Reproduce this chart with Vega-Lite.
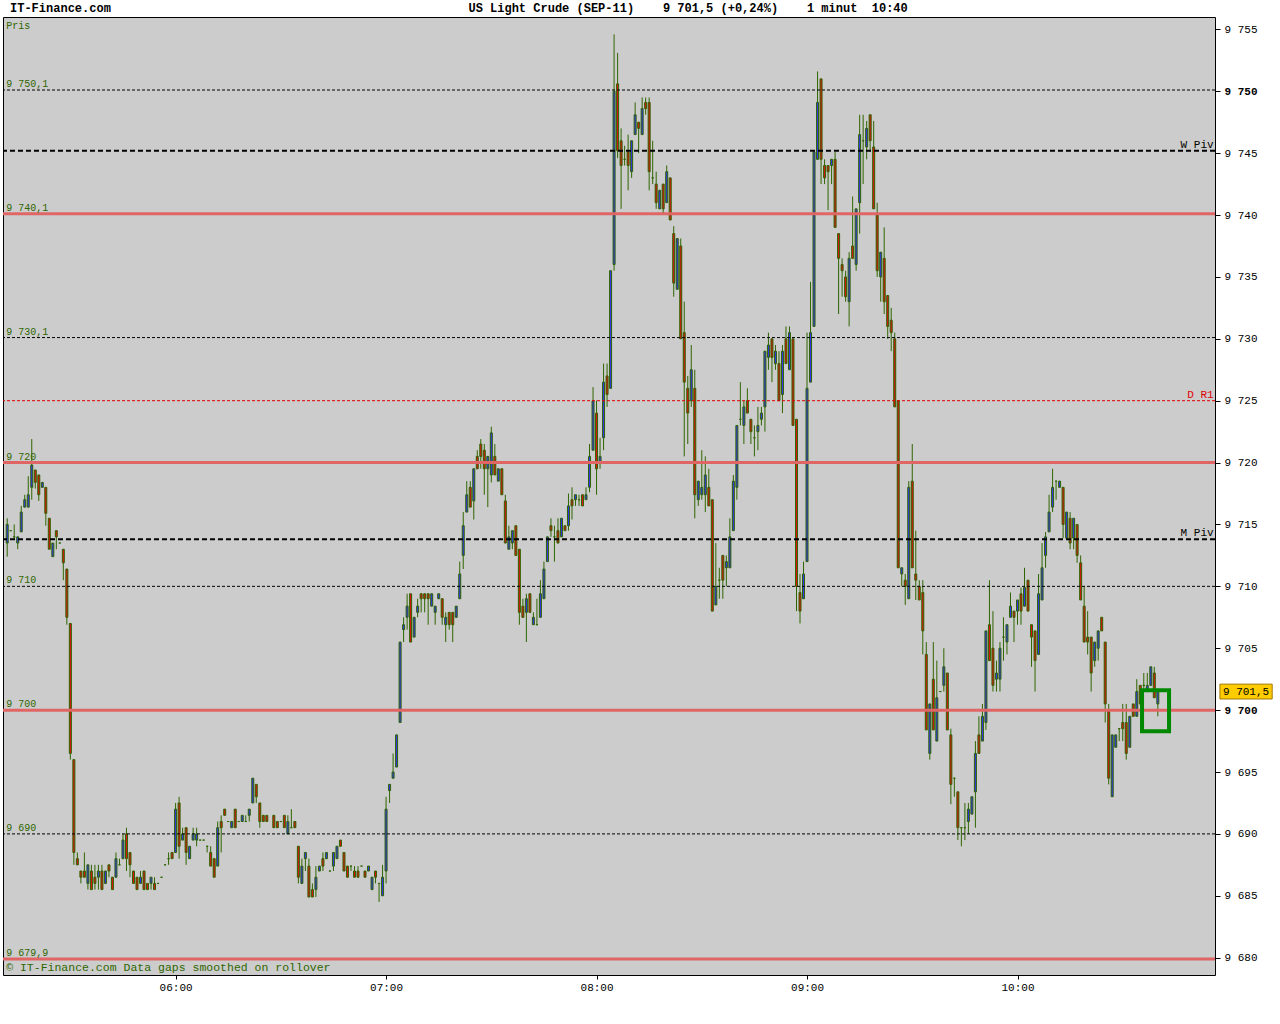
{
"$schema": "https://vega.github.io/schema/vega-lite/v6.json",
"width": 1212,
"height": 958,
"autosize": {"type": "none"},
"padding": {"left": 3, "top": 17, "right": 65, "bottom": 49},
"background": "#FFFFFF",
"config": {
  "view": {"fill": "#CCCCCC", "stroke": "#000000", "strokeWidth": 1},
  "axis": {"labelFont": "Liberation Mono", "labelColor": "#000000", "tickColor": "#000000", "domain": false, "grid": false},
  "text": {"font": "Liberation Mono"}
},
"datasets": {
"bars": [
{"m":312,"o":9713.5,"h":9715.5,"l":9712.4,"c":9715},
{"m":313,"o":9714.5,"h":9714.5,"l":9714.5,"c":9714.5},
{"m":314,"o":9714,"h":9715,"l":9713.8,"c":9714},
{"m":315,"o":9713.5,"h":9714,"l":9713,"c":9714},
{"m":316,"o":9714.4,"h":9716.5,"l":9714.4,"c":9716},
{"m":317,"o":9716.4,"h":9717.4,"l":9716.4,"c":9717},
{"m":318,"o":9716.4,"h":9718.9,"l":9716.4,"c":9717.4},
{"m":319,"o":9718,"h":9721.9,"l":9717,"c":9719.8},
{"m":320,"o":9719.4,"h":9719.4,"l":9717.9,"c":9718.4},
{"m":321,"o":9719,"h":9719,"l":9716.9,"c":9717.4},
{"m":322,"o":9718,"h":9718.4,"l":9718,"c":9718.4},
{"m":323,"o":9718,"h":9718,"l":9714.9,"c":9715.9},
{"m":324,"o":9715.5,"h":9715.5,"l":9713,"c":9713},
{"m":325,"o":9712.4,"h":9713.5,"l":9712.4,"c":9713.5},
{"m":326,"o":9714.5,"h":9714.5,"l":9713,"c":9714},
{"m":327,"o":9713.5,"h":9713.5,"l":9713.5,"c":9713.5},
{"m":328,"o":9713,"h":9713,"l":9710.5,"c":9711.9},
{"m":329,"o":9711.4,"h":9711.4,"l":9706.9,"c":9707.5},
{"m":330,"o":9707,"h":9707,"l":9696,"c":9696.5},
{"m":331,"o":9696,"h":9696,"l":9687.5,"c":9688.5},
{"m":332,"o":9688,"h":9688.5,"l":9687.5,"c":9687.5},
{"m":333,"o":9687,"h":9687,"l":9686,"c":9686.5},
{"m":334,"o":9687,"h":9688.5,"l":9686.5,"c":9686.5},
{"m":335,"o":9686,"h":9687.5,"l":9685.5,"c":9687.5},
{"m":336,"o":9687,"h":9687.5,"l":9685.5,"c":9685.5},
{"m":337,"o":9686.5,"h":9687.5,"l":9685.5,"c":9686},
{"m":338,"o":9686.5,"h":9687.5,"l":9685.5,"c":9687},
{"m":339,"o":9687,"h":9687.5,"l":9685.5,"c":9685.5},
{"m":340,"o":9686,"h":9687,"l":9686,"c":9687},
{"m":341,"o":9687.5,"h":9687.5,"l":9686.5,"c":9687},
{"m":342,"o":9686.5,"h":9686.5,"l":9685.5,"c":9685.5},
{"m":343,"o":9686.5,"h":9688.5,"l":9686.5,"c":9688},
{"m":344,"o":9687.5,"h":9688,"l":9687.5,"c":9687.5},
{"m":345,"o":9688,"h":9690,"l":9688,"c":9689.5},
{"m":346,"o":9690,"h":9690.5,"l":9687,"c":9688},
{"m":347,"o":9688.5,"h":9688.5,"l":9686.5,"c":9687.5},
{"m":348,"o":9687,"h":9687,"l":9686,"c":9686},
{"m":349,"o":9686.5,"h":9686.5,"l":9685.5,"c":9685.5},
{"m":350,"o":9686,"h":9687,"l":9686,"c":9686.5},
{"m":351,"o":9687,"h":9687,"l":9685.5,"c":9685.5},
{"m":352,"o":9686,"h":9686,"l":9685.5,"c":9685.5},
{"m":353,"o":9686,"h":9686.5,"l":9685.5,"c":9686.5},
{"m":354,"o":9686,"h":9686.5,"l":9685.5,"c":9685.5},
{"m":355,"o":9686,"h":9686,"l":9686,"c":9686},
{"m":356,"o":9686.5,"h":9686.5,"l":9686.5,"c":9686.5},
{"m":357,"o":9687.5,"h":9687.5,"l":9687.5,"c":9687.5},
{"m":358,"o":9688,"h":9688.5,"l":9687.5,"c":9688},
{"m":359,"o":9688.5,"h":9688.5,"l":9688,"c":9688},
{"m":360,"o":9688.5,"h":9692.5,"l":9688.5,"c":9692},
{"m":361,"o":9692.5,"h":9693,"l":9688,"c":9689},
{"m":362,"o":9689.5,"h":9690.5,"l":9689.5,"c":9690},
{"m":363,"o":9690.5,"h":9690.5,"l":9687.5,"c":9688.5},
{"m":364,"o":9688,"h":9689,"l":9688,"c":9689},
{"m":365,"o":9689.5,"h":9690.5,"l":9689.5,"c":9690},
{"m":366,"o":9689.5,"h":9690.5,"l":9689,"c":9690},
{"m":367,"o":9689.5,"h":9689.5,"l":9689.5,"c":9689.5},
{"m":368,"o":9689.5,"h":9689.5,"l":9689.5,"c":9689.5},
{"m":369,"o":9689,"h":9689,"l":9688.5,"c":9689},
{"m":370,"o":9688.5,"h":9689,"l":9687.4,"c":9687.4},
{"m":371,"o":9688,"h":9688,"l":9686.5,"c":9686.5},
{"m":372,"o":9687.4,"h":9691,"l":9687.4,"c":9690.5},
{"m":373,"o":9691,"h":9691.5,"l":9688.5,"c":9690.5},
{"m":374,"o":9692,"h":9692,"l":9691.5,"c":9691.5},
{"m":375,"o":9691,"h":9691,"l":9691,"c":9691},
{"m":376,"o":9690.5,"h":9691,"l":9690.5,"c":9691},
{"m":377,"o":9692,"h":9692,"l":9690.5,"c":9690.5},
{"m":378,"o":9691,"h":9691,"l":9691,"c":9691},
{"m":379,"o":9691,"h":9691.5,"l":9691,"c":9691.5},
{"m":380,"o":9691,"h":9691.5,"l":9691,"c":9691},
{"m":381,"o":9691.5,"h":9692,"l":9691,"c":9692},
{"m":382,"o":9692.5,"h":9694.5,"l":9692.5,"c":9694.5},
{"m":383,"o":9694,"h":9694,"l":9692.5,"c":9693},
{"m":384,"o":9692.5,"h":9692.5,"l":9690.5,"c":9691},
{"m":385,"o":9691.5,"h":9691.5,"l":9691,"c":9691},
{"m":386,"o":9691.5,"h":9691.5,"l":9691,"c":9691},
{"m":388,"o":9691.5,"h":9691.5,"l":9690.5,"c":9690.5},
{"m":389,"o":9691,"h":9691,"l":9690.5,"c":9690.5},
{"m":390,"o":9691,"h":9691,"l":9691,"c":9691},
{"m":391,"o":9691.5,"h":9691.5,"l":9690.5,"c":9690.5},
{"m":392,"o":9690,"h":9691.5,"l":9690,"c":9691},
{"m":393,"o":9690.5,"h":9692,"l":9690.5,"c":9690.5},
{"m":394,"o":9691,"h":9691,"l":9690.5,"c":9690.5},
{"m":395,"o":9689,"h":9689,"l":9686,"c":9686.5},
{"m":396,"o":9686,"h":9688,"l":9686,"c":9687.4},
{"m":397,"o":9688,"h":9688.5,"l":9687,"c":9688.5},
{"m":398,"o":9687.4,"h":9688,"l":9684.9,"c":9684.9},
{"m":399,"o":9685.5,"h":9686,"l":9684.9,"c":9684.9},
{"m":400,"o":9685.5,"h":9687.4,"l":9684.9,"c":9686.5},
{"m":401,"o":9687,"h":9687.4,"l":9687,"c":9687.4},
{"m":402,"o":9688,"h":9688.5,"l":9687,"c":9687.4},
{"m":403,"o":9688,"h":9688.5,"l":9688,"c":9688.5},
{"m":404,"o":9687,"h":9687,"l":9687,"c":9687},
{"m":405,"o":9687.4,"h":9688.5,"l":9687,"c":9688.5},
{"m":406,"o":9688,"h":9689,"l":9688,"c":9689},
{"m":407,"o":9689.5,"h":9689.5,"l":9689,"c":9689},
{"m":408,"o":9688.5,"h":9688.5,"l":9687,"c":9687},
{"m":409,"o":9687.4,"h":9687.4,"l":9686.5,"c":9686.5},
{"m":410,"o":9687.4,"h":9687.4,"l":9687,"c":9687.4},
{"m":411,"o":9687,"h":9687.4,"l":9686.5,"c":9686.5},
{"m":412,"o":9687,"h":9687.4,"l":9686.5,"c":9686.5},
{"m":413,"o":9687.4,"h":9687.4,"l":9687.4,"c":9687.4},
{"m":414,"o":9687,"h":9687,"l":9686.5,"c":9686.5},
{"m":415,"o":9687,"h":9687.4,"l":9687,"c":9687.4},
{"m":416,"o":9685.5,"h":9686.5,"l":9685.5,"c":9686.5},
{"m":417,"o":9687,"h":9687,"l":9686,"c":9686.5},
{"m":418,"o":9686,"h":9686,"l":9684.5,"c":9686},
{"m":419,"o":9685,"h":9687.5,"l":9685,"c":9686.5},
{"m":420,"o":9687,"h":9693,"l":9686,"c":9692},
{"m":421,"o":9693.5,"h":9694,"l":9692.5,"c":9694},
{"m":422,"o":9694.5,"h":9696.5,"l":9694.5,"c":9695},
{"m":423,"o":9695.4,"h":9698,"l":9695.4,"c":9698},
{"m":424,"o":9699,"h":9705.5,"l":9699,"c":9705.5},
{"m":425,"o":9706.5,"h":9707.5,"l":9705.5,"c":9706.9},
{"m":426,"o":9707.5,"h":9709.4,"l":9706.5,"c":9708.4},
{"m":427,"o":9709.4,"h":9709.4,"l":9705.5,"c":9705.5},
{"m":428,"o":9705.9,"h":9707.5,"l":9705.9,"c":9707.5},
{"m":429,"o":9707.9,"h":9709,"l":9707.5,"c":9708.4},
{"m":430,"o":9709.4,"h":9709.4,"l":9707.9,"c":9709},
{"m":431,"o":9709.4,"h":9709.4,"l":9707.9,"c":9709},
{"m":432,"o":9709.4,"h":9709.4,"l":9706.9,"c":9709},
{"m":433,"o":9708.4,"h":9709.4,"l":9708.4,"c":9709.4},
{"m":434,"o":9707.9,"h":9708.4,"l":9706.9,"c":9708.4},
{"m":435,"o":9709,"h":9709.4,"l":9709,"c":9709.4},
{"m":436,"o":9709,"h":9709,"l":9706.9,"c":9707.5},
{"m":437,"o":9706.9,"h":9707.9,"l":9705.5,"c":9707.5},
{"m":438,"o":9707.9,"h":9707.9,"l":9706.5,"c":9706.9},
{"m":439,"o":9707.9,"h":9707.9,"l":9705.5,"c":9706.9},
{"m":440,"o":9707.5,"h":9708.4,"l":9707.5,"c":9708.4},
{"m":441,"o":9709,"h":9712,"l":9709,"c":9711},
{"m":442,"o":9712.5,"h":9716,"l":9711.4,"c":9714.9},
{"m":443,"o":9716,"h":9718.5,"l":9716,"c":9717.4},
{"m":444,"o":9718,"h":9718.5,"l":9716.4,"c":9716.4},
{"m":445,"o":9716.9,"h":9719.5,"l":9715.4,"c":9719.5},
{"m":446,"o":9720.5,"h":9721,"l":9719.5,"c":9719.5},
{"m":447,"o":9721.5,"h":9721.9,"l":9719.5,"c":9720.5},
{"m":448,"o":9721,"h":9721.5,"l":9717.4,"c":9719.5},
{"m":449,"o":9719.5,"h":9720.5,"l":9716.4,"c":9720.5},
{"m":450,"o":9719,"h":9722.9,"l":9718.4,"c":9722.4},
{"m":451,"o":9720.5,"h":9721.5,"l":9719,"c":9719},
{"m":452,"o":9718.5,"h":9719.5,"l":9718.5,"c":9719.5},
{"m":453,"o":9719.5,"h":9719.5,"l":9717.4,"c":9717.4},
{"m":454,"o":9716.9,"h":9717.4,"l":9713.5,"c":9713.5},
{"m":455,"o":9713,"h":9714.9,"l":9713,"c":9714},
{"m":456,"o":9713.5,"h":9714.5,"l":9713,"c":9714.5},
{"m":457,"o":9714.9,"h":9714.9,"l":9712.5,"c":9712.5},
{"m":458,"o":9713,"h":9713,"l":9706.9,"c":9707.9},
{"m":459,"o":9708.4,"h":9709,"l":9707.5,"c":9707.5},
{"m":460,"o":9707.9,"h":9709.4,"l":9705.5,"c":9709},
{"m":461,"o":9709.4,"h":9709.4,"l":9707.9,"c":9707.9},
{"m":462,"o":9706.9,"h":9707.9,"l":9706.9,"c":9707.5},
{"m":463,"o":9706.9,"h":9709,"l":9706.9,"c":9706.9},
{"m":464,"o":9707.5,"h":9710.5,"l":9707.5,"c":9709.4},
{"m":465,"o":9709,"h":9712,"l":9709,"c":9711.4},
{"m":466,"o":9712,"h":9714,"l":9712,"c":9714},
{"m":467,"o":9714.9,"h":9715.5,"l":9714,"c":9714.5},
{"m":468,"o":9714,"h":9714.9,"l":9712,"c":9714},
{"m":469,"o":9714.5,"h":9715.5,"l":9713.5,"c":9713.5},
{"m":470,"o":9714,"h":9715.5,"l":9714,"c":9715.5},
{"m":471,"o":9714.9,"h":9714.9,"l":9714.5,"c":9714.5},
{"m":472,"o":9714.9,"h":9717.5,"l":9714.5,"c":9716.5},
{"m":473,"o":9717,"h":9718,"l":9715.4,"c":9716.5},
{"m":474,"o":9717,"h":9717.4,"l":9716.5,"c":9717.4},
{"m":475,"o":9717,"h":9717.4,"l":9716.5,"c":9717},
{"m":476,"o":9717.4,"h":9717.4,"l":9716.5,"c":9716.5},
{"m":477,"o":9717,"h":9718,"l":9717,"c":9717.4},
{"m":478,"o":9718,"h":9721.5,"l":9717.6,"c":9720.5},
{"m":479,"o":9721,"h":9726.1,"l":9721,"c":9725},
{"m":480,"o":9724,"h":9725,"l":9717.4,"c":9719.5},
{"m":481,"o":9720,"h":9722,"l":9719.5,"c":9720.5},
{"m":482,"o":9722,"h":9728,"l":9721,"c":9726.5},
{"m":483,"o":9727,"h":9728,"l":9724.5,"c":9725.5},
{"m":484,"o":9726,"h":9735.5,"l":9726,"c":9735.5},
{"m":485,"o":9736,"h":9754.6,"l":9735.5,"c":9750},
{"m":486,"o":9750.6,"h":9753.1,"l":9744.6,"c":9745.2},
{"m":487,"o":9746,"h":9747,"l":9740.5,"c":9744},
{"m":488,"o":9744.5,"h":9745.6,"l":9744,"c":9744.5},
{"m":489,"o":9745.1,"h":9746.5,"l":9742,"c":9744},
{"m":490,"o":9743.5,"h":9746,"l":9743,"c":9746},
{"m":491,"o":9746.5,"h":9749.1,"l":9746.5,"c":9748.1},
{"m":492,"o":9747.5,"h":9747.5,"l":9745,"c":9747},
{"m":493,"o":9746.5,"h":9749.5,"l":9746.5,"c":9748.6},
{"m":494,"o":9749.1,"h":9749.5,"l":9748.1,"c":9748.6},
{"m":495,"o":9749.1,"h":9749.5,"l":9742,"c":9743.5},
{"m":496,"o":9743,"h":9746,"l":9742.5,"c":9743},
{"m":497,"o":9742.5,"h":9743.5,"l":9740.5,"c":9741},
{"m":498,"o":9740.5,"h":9742,"l":9740.5,"c":9742},
{"m":499,"o":9742.5,"h":9742.5,"l":9740.1,"c":9740.5},
{"m":500,"o":9741,"h":9744,"l":9741,"c":9743.5},
{"m":501,"o":9743,"h":9743,"l":9739.6,"c":9739.6},
{"m":502,"o":9738.5,"h":9739.1,"l":9733.4,"c":9734.5},
{"m":503,"o":9734,"h":9738.1,"l":9734,"c":9738.1},
{"m":504,"o":9737.5,"h":9738.1,"l":9730,"c":9730},
{"m":505,"o":9730.5,"h":9733,"l":9720.5,"c":9726.5},
{"m":506,"o":9726,"h":9727,"l":9721.5,"c":9724},
{"m":507,"o":9725,"h":9729.5,"l":9724.5,"c":9727.5},
{"m":508,"o":9726,"h":9727.5,"l":9715.5,"c":9717.4},
{"m":509,"o":9717,"h":9718.5,"l":9716.5,"c":9718.5},
{"m":510,"o":9717.4,"h":9721,"l":9717,"c":9718},
{"m":511,"o":9717.4,"h":9720.5,"l":9716,"c":9719},
{"m":512,"o":9718,"h":9719.5,"l":9716.5,"c":9716.5},
{"m":513,"o":9717,"h":9717,"l":9708,"c":9708},
{"m":514,"o":9708.5,"h":9713.5,"l":9708.5,"c":9710},
{"m":515,"o":9710.5,"h":9711.5,"l":9709,"c":9710.5},
{"m":516,"o":9712.5,"h":9712.5,"l":9709,"c":9710.5},
{"m":517,"o":9711.5,"h":9712.5,"l":9710,"c":9712},
{"m":518,"o":9711.5,"h":9715.5,"l":9711.5,"c":9714},
{"m":519,"o":9714.5,"h":9719,"l":9714.5,"c":9718.5},
{"m":520,"o":9718,"h":9723,"l":9717,"c":9723},
{"m":521,"o":9723.5,"h":9726.5,"l":9723,"c":9723.5},
{"m":522,"o":9723,"h":9725,"l":9721.5,"c":9724.5},
{"m":523,"o":9725,"h":9726,"l":9724,"c":9724},
{"m":524,"o":9723.5,"h":9723.5,"l":9721.5,"c":9722.5},
{"m":525,"o":9722,"h":9723,"l":9720.5,"c":9722},
{"m":526,"o":9722.5,"h":9724.5,"l":9721,"c":9723},
{"m":527,"o":9723.5,"h":9724.5,"l":9723,"c":9724},
{"m":528,"o":9724.5,"h":9729,"l":9722.5,"c":9729},
{"m":529,"o":9728.5,"h":9730.5,"l":9727.5,"c":9729.5},
{"m":530,"o":9730,"h":9730,"l":9726.5,"c":9728.5},
{"m":531,"o":9728,"h":9729.5,"l":9727.5,"c":9729},
{"m":532,"o":9728,"h":9729,"l":9725,"c":9725},
{"m":533,"o":9725.5,"h":9729.5,"l":9724,"c":9729},
{"m":534,"o":9730,"h":9731,"l":9728,"c":9728},
{"m":535,"o":9727.5,"h":9731,"l":9727.5,"c":9730.5},
{"m":536,"o":9730,"h":9730,"l":9723,"c":9723},
{"m":537,"o":9723.5,"h":9723.5,"l":9708,"c":9710},
{"m":538,"o":9709.5,"h":9711,"l":9707,"c":9708},
{"m":539,"o":9709,"h":9712,"l":9709,"c":9711},
{"m":540,"o":9712,"h":9730.5,"l":9712,"c":9726},
{"m":541,"o":9726.5,"h":9734.6,"l":9726.5,"c":9730.5},
{"m":542,"o":9731,"h":9745.1,"l":9731,"c":9745.1},
{"m":543,"o":9744.5,"h":9751.6,"l":9744.5,"c":9749.1},
{"m":544,"o":9751,"h":9751,"l":9742.5,"c":9744.5},
{"m":545,"o":9744,"h":9744.5,"l":9742.5,"c":9743},
{"m":546,"o":9744,"h":9744,"l":9740.4,"c":9743.5},
{"m":547,"o":9744,"h":9744.5,"l":9742.5,"c":9744.5},
{"m":548,"o":9744.5,"h":9745.1,"l":9739,"c":9739},
{"m":549,"o":9738.5,"h":9738.5,"l":9732,"c":9736.5},
{"m":550,"o":9736,"h":9736.5,"l":9733.4,"c":9735.5},
{"m":551,"o":9735,"h":9735.5,"l":9733,"c":9733.4},
{"m":552,"o":9733,"h":9737,"l":9731,"c":9736.5},
{"m":553,"o":9737.5,"h":9741.5,"l":9736.5,"c":9736.5},
{"m":554,"o":9736,"h":9740.5,"l":9735.5,"c":9740.5},
{"m":555,"o":9741,"h":9748.1,"l":9738.5,"c":9746.5},
{"m":556,"o":9746,"h":9748.1,"l":9742.5,"c":9746},
{"m":557,"o":9745.5,"h":9747.6,"l":9744.5,"c":9747},
{"m":558,"o":9748.1,"h":9748.1,"l":9745.1,"c":9746},
{"m":559,"o":9745.5,"h":9747.6,"l":9740.5,"c":9740.5},
{"m":560,"o":9740,"h":9741,"l":9735,"c":9735.5},
{"m":561,"o":9735,"h":9737,"l":9733,"c":9737},
{"m":562,"o":9736.5,"h":9739,"l":9732,"c":9733},
{"m":563,"o":9733.5,"h":9733.5,"l":9730,"c":9731},
{"m":564,"o":9731.5,"h":9732.5,"l":9729,"c":9730.5},
{"m":565,"o":9730,"h":9730.5,"l":9724.5,"c":9724.5},
{"m":566,"o":9725,"h":9725,"l":9711.5,"c":9711.5},
{"m":567,"o":9711,"h":9711.5,"l":9710,"c":9711.5},
{"m":568,"o":9710.5,"h":9711,"l":9708.5,"c":9710},
{"m":569,"o":9709,"h":9718.5,"l":9709,"c":9718},
{"m":570,"o":9718.5,"h":9721.5,"l":9711.5,"c":9711.5},
{"m":571,"o":9711,"h":9714.5,"l":9708.9,"c":9710.5},
{"m":572,"o":9710,"h":9710.5,"l":9708.9,"c":9708.9},
{"m":573,"o":9709.5,"h":9710.5,"l":9704.5,"c":9706.4},
{"m":574,"o":9704.5,"h":9705.5,"l":9698.4,"c":9698.4},
{"m":575,"o":9696.5,"h":9700.5,"l":9696,"c":9700.5},
{"m":576,"o":9702.5,"h":9705.5,"l":9698.4,"c":9698.4},
{"m":577,"o":9697.5,"h":9704,"l":9697.5,"c":9701},
{"m":578,"o":9701.5,"h":9701.5,"l":9701.5,"c":9701.5},
{"m":579,"o":9702,"h":9705,"l":9701.5,"c":9703.5},
{"m":580,"o":9703,"h":9703,"l":9698.4,"c":9698.4},
{"m":581,"o":9698,"h":9698.5,"l":9692.4,"c":9694},
{"m":582,"o":9694.5,"h":9694.5,"l":9693,"c":9694.5},
{"m":583,"o":9693.4,"h":9693.4,"l":9689.5,"c":9690.5},
{"m":584,"o":9690.5,"h":9690.5,"l":9689,"c":9690.5},
{"m":585,"o":9690.5,"h":9692.5,"l":9689.5,"c":9690.5},
{"m":586,"o":9691,"h":9692.5,"l":9690,"c":9692},
{"m":587,"o":9691.6,"h":9693,"l":9691.6,"c":9693},
{"m":588,"o":9693.4,"h":9697.5,"l":9690.5,"c":9696.5},
{"m":589,"o":9698,"h":9699.5,"l":9696.5,"c":9696.5},
{"m":590,"o":9697.5,"h":9700.5,"l":9697.5,"c":9699.5},
{"m":591,"o":9699,"h":9706.4,"l":9698.4,"c":9706.4},
{"m":592,"o":9706.9,"h":9710.5,"l":9704,"c":9704},
{"m":593,"o":9705,"h":9708,"l":9701.5,"c":9702},
{"m":594,"o":9702.5,"h":9704,"l":9701.5,"c":9703},
{"m":595,"o":9702.5,"h":9705.5,"l":9701.5,"c":9705},
{"m":596,"o":9705.9,"h":9707.5,"l":9704,"c":9705.9},
{"m":597,"o":9705.5,"h":9706.9,"l":9704.5,"c":9706.9},
{"m":598,"o":9707.5,"h":9709.5,"l":9707.5,"c":9708.4},
{"m":599,"o":9708,"h":9708,"l":9705.5,"c":9707.5},
{"m":600,"o":9708,"h":9708.9,"l":9706.9,"c":9708.9},
{"m":601,"o":9709.4,"h":9709.9,"l":9706.9,"c":9708},
{"m":602,"o":9708.4,"h":9711.5,"l":9708.4,"c":9709.9},
{"m":603,"o":9710.5,"h":9710.5,"l":9708,"c":9708},
{"m":604,"o":9706.9,"h":9706.9,"l":9703.5,"c":9705.9},
{"m":605,"o":9706.4,"h":9706.4,"l":9701.5,"c":9704},
{"m":606,"o":9704.5,"h":9711,"l":9704.5,"c":9709.4},
{"m":607,"o":9708.9,"h":9713.5,"l":9708.9,"c":9711.5},
{"m":608,"o":9712.5,"h":9714.4,"l":9711.5,"c":9714},
{"m":609,"o":9714.4,"h":9717.4,"l":9714.4,"c":9716},
{"m":610,"o":9716.4,"h":9719.5,"l":9716,"c":9718},
{"m":611,"o":9718.5,"h":9718.5,"l":9717,"c":9718.5},
{"m":612,"o":9718,"h":9718.5,"l":9718,"c":9718.5},
{"m":613,"o":9718,"h":9718,"l":9713.9,"c":9715},
{"m":614,"o":9713.9,"h":9716,"l":9713.9,"c":9716},
{"m":615,"o":9715.5,"h":9716,"l":9713,"c":9713.5},
{"m":616,"o":9713.9,"h":9715.5,"l":9713,"c":9715.5},
{"m":617,"o":9715,"h":9715,"l":9711.9,"c":9712.5},
{"m":618,"o":9711.9,"h":9712.5,"l":9708.9,"c":9708.9},
{"m":619,"o":9708.4,"h":9710,"l":9705.5,"c":9705.5},
{"m":620,"o":9705.9,"h":9708,"l":9704.5,"c":9705.5},
{"m":621,"o":9705.9,"h":9705.9,"l":9701.5,"c":9703},
{"m":622,"o":9704,"h":9705.5,"l":9703.5,"c":9705.5},
{"m":623,"o":9705,"h":9706.4,"l":9704,"c":9706.4},
{"m":624,"o":9707.5,"h":9707.5,"l":9706.4,"c":9706.4},
{"m":625,"o":9705.5,"h":9705.5,"l":9699,"c":9700.5},
{"m":626,"o":9700,"h":9700.5,"l":9694,"c":9694.5},
{"m":627,"o":9693,"h":9698,"l":9693,"c":9698},
{"m":628,"o":9697,"h":9698,"l":9697,"c":9698},
{"m":629,"o":9698.5,"h":9698.5,"l":9697.5,"c":9698.5},
{"m":630,"o":9699,"h":9700.5,"l":9697.5,"c":9698.5},
{"m":631,"o":9699,"h":9700.5,"l":9696,"c":9696.5},
{"m":632,"o":9697,"h":9699.5,"l":9697,"c":9699.5},
{"m":633,"o":9700.5,"h":9700.5,"l":9699.5,"c":9699.5},
{"m":634,"o":9699.5,"h":9702.5,"l":9699.5,"c":9701.5},
{"m":635,"o":9702,"h":9702,"l":9700.5,"c":9700.5},
{"m":636,"o":9702,"h":9703,"l":9701.5,"c":9702},
{"m":637,"o":9701.5,"h":9703,"l":9701.5,"c":9702},
{"m":638,"o":9702,"h":9703.5,"l":9702,"c":9703.5},
{"m":639,"o":9703,"h":9703.5,"l":9701,"c":9701},
{"m":640,"o":9700.5,"h":9701.5,"l":9699.5,"c":9701.5}
]
},
"layer": [
{
  "data": {"name": "bars"},
  "mark": {"type": "rule", "color": "#2F6600", "strokeWidth": 1},
  "encoding": {
    "x": {"field": "m", "type": "quantitative", "title": null,
      "scale": {"domain": [310.8, 656.3], "nice": false, "zero": false, "padding": 0},
      "axis": {"orient": "bottom", "values": [360, 420, 480, 540, 600], "labelExpr": "(datum.value < 600 ? '0' : '') + floor(datum.value / 60) + ':00'", "tickSize": 4, "labelFontSize": 11, "labelPadding": 2, "title": null}},
    "y": {"field": "l", "type": "quantitative", "title": null,
      "scale": {"domain": [9678.6, 9756.0], "nice": false, "zero": false},
      "axis": {"orient": "right", "values": [9680, 9685, 9690, 9695, 9700, 9705, 9710, 9715, 9720, 9725, 9730, 9735, 9740, 9745, 9750, 9755], "labelExpr": "'9 ' + slice(toString(datum.value), 1)", "tickSize": 5, "labelPadding": 4, "labelFontSize": 11, "labelFontWeight": {"condition": {"test": "datum.value % 50 === 0", "value": "bold"}, "value": "normal"}, "title": null}},
    "y2": {"field": "h"}
  }
},
{
  "data": {"name": "bars"},
  "mark": {"type": "bar", "width": 2, "stroke": "#2F6600", "strokeWidth": 1},
  "encoding": {
    "x": {"field": "m", "type": "quantitative", "title": null},
    "y": {"field": "o", "type": "quantitative", "title": null},
    "y2": {"field": "c"},
    "fill": {"condition": {"test": "datum.c >= datum.o", "value": "#3333EE"}, "value": "#DD1111"}
  }
},
{
  "data": {"values": [{"p": 9750.1}, {"p": 9730.1}, {"p": 9710}, {"p": 9690}]},
  "mark": {"type": "rule", "color": "#000000", "strokeWidth": 1, "strokeDash": [3, 2]},
  "encoding": {"y": {"field": "p", "type": "quantitative", "title": null}}
},
{
  "data": {"values": [{"p": 9725}]},
  "mark": {"type": "rule", "color": "#E00000", "strokeWidth": 1, "strokeDash": [3, 2]},
  "encoding": {"y": {"field": "p", "type": "quantitative", "title": null}}
},
{
  "data": {"values": [{"p": 9745.2}, {"p": 9713.8}]},
  "mark": {"type": "rule", "color": "#000000", "strokeWidth": 2, "strokeDash": [5, 3]},
  "encoding": {"y": {"field": "p", "type": "quantitative", "title": null}}
},
{
  "data": {"values": [{"p": 9740.1}, {"p": 9720}, {"p": 9700}, {"p": 9679.9}]},
  "mark": {"type": "rule", "color": "#E06666", "strokeWidth": 3},
  "encoding": {"y": {"field": "p", "type": "quantitative", "title": null}}
},
{
  "data": {"values": [{"p": 9750.1, "t": "9 750,1"}, {"p": 9740.1, "t": "9 740,1"}, {"p": 9730.1, "t": "9 730,1"}, {"p": 9720, "t": "9 720"}, {"p": 9710, "t": "9 710"}, {"p": 9700, "t": "9 700"}, {"p": 9690, "t": "9 690"}, {"p": 9679.9, "t": "9 679,9"}]},
  "mark": {"type": "text", "align": "left", "baseline": "alphabetic", "dy": -3, "fontSize": 10, "color": "#2F6600", "font": "Liberation Mono"},
  "encoding": {
    "x": {"datum": 311.7, "type": "quantitative", "title": null},
    "y": {"field": "p", "type": "quantitative", "title": null},
    "text": {"field": "t"}
  }
},
{
  "data": {"values": [{"p": 9745.2, "t": "W Piv"}, {"p": 9713.8, "t": "M Piv"}]},
  "mark": {"type": "text", "align": "right", "baseline": "alphabetic", "dy": -3, "fontSize": 11, "color": "#000000", "font": "Liberation Mono"},
  "encoding": {
    "x": {"datum": 655.9, "type": "quantitative", "title": null},
    "y": {"field": "p", "type": "quantitative", "title": null},
    "text": {"field": "t"}
  }
},
{
  "data": {"values": [{"p": 9725, "t": "D R1"}]},
  "mark": {"type": "text", "align": "right", "baseline": "alphabetic", "dy": -3, "fontSize": 11, "color": "#E00000", "font": "Liberation Mono"},
  "encoding": {
    "x": {"datum": 655.9, "type": "quantitative", "title": null},
    "y": {"field": "p", "type": "quantitative", "title": null},
    "text": {"field": "t"}
  }
},
{
  "data": {"values": [{"t": "Pris"}]},
  "mark": {"type": "text", "align": "left", "baseline": "top", "fontSize": 10, "color": "#2F6600", "font": "Liberation Mono"},
  "encoding": {
    "x": {"datum": 311.7, "type": "quantitative", "title": null},
    "y": {"datum": 9755.7, "type": "quantitative", "title": null},
    "text": {"field": "t"}
  }
},
{
  "data": {"values": [{"t": "© IT-Finance.com Data gaps smoothed on rollover"}]},
  "mark": {"type": "text", "align": "left", "baseline": "alphabetic", "fontSize": 11.5, "color": "#2F6600", "font": "Liberation Mono"},
  "encoding": {
    "x": {"datum": 311.7, "type": "quantitative", "title": null},
    "y": {"datum": 9678.9, "type": "quantitative", "title": null},
    "text": {"field": "t"}
  }
},
{
  "data": {"values": [{"t": "IT-Finance.com"}]},
  "mark": {"type": "text", "align": "left", "baseline": "alphabetic", "fontSize": 12, "fontWeight": "bold", "color": "#000000", "font": "Liberation Mono"},
  "encoding": {
    "x": {"datum": 312.8, "type": "quantitative", "title": null},
    "y": {"datum": 9756.4, "type": "quantitative", "title": null},
    "text": {"field": "t"}
  }
},
{
  "data": {"values": [{"t": "US Light Crude (SEP-11)\u00a0\u00a0\u00a0\u00a09 701,5 (+0,24%)\u00a0\u00a0\u00a0\u00a01 minut\u00a0\u00a010:40"}]},
  "mark": {"type": "text", "align": "center", "baseline": "alphabetic", "fontSize": 12, "fontWeight": "bold", "color": "#000000", "font": "Liberation Mono"},
  "encoding": {
    "x": {"datum": 506.1, "type": "quantitative", "title": null},
    "y": {"datum": 9756.4, "type": "quantitative", "title": null},
    "text": {"field": "t"}
  }
},
{
  "data": {"values": [{"m1": 635.5, "m2": 643.2, "p1": 9701.6, "p2": 9698.3}]},
  "mark": {"type": "rect", "fill": "transparent", "stroke": "#008800", "strokeWidth": 4},
  "encoding": {
    "x": {"field": "m1", "type": "quantitative", "title": null},
    "x2": {"field": "m2"},
    "y": {"field": "p1", "type": "quantitative", "title": null},
    "y2": {"field": "p2"}
  }
},
{
  "data": {"values": [{"m1": 657.7, "m2": 672.6, "p1": 9702.1, "p2": 9700.9}]},
  "mark": {"type": "rect", "fill": "#FFCC00", "stroke": "#A07800", "strokeWidth": 1, "clip": false},
  "encoding": {
    "x": {"field": "m1", "type": "quantitative", "title": null},
    "x2": {"field": "m2"},
    "y": {"field": "p1", "type": "quantitative", "title": null},
    "y2": {"field": "p2"}
  }
},
{
  "data": {"values": [{"p": 9701.5, "t": "9 701,5"}]},
  "mark": {"type": "text", "align": "center", "baseline": "middle", "fontSize": 11, "color": "#000000", "font": "Liberation Mono"},
  "encoding": {
    "x": {"datum": 665.15, "type": "quantitative", "title": null},
    "y": {"field": "p", "type": "quantitative", "title": null},
    "text": {"field": "t"}
  }
}
]
}
